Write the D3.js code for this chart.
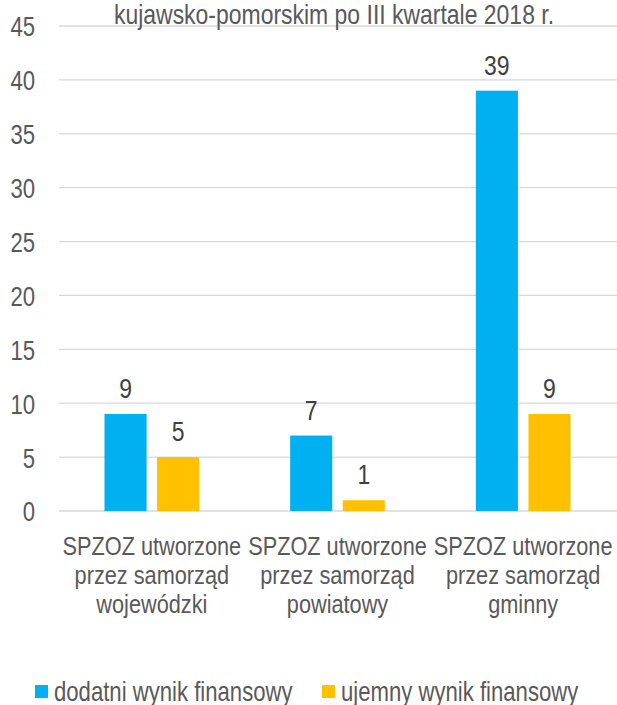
<!DOCTYPE html>
<html><head><meta charset="utf-8">
<script src="https://cdn.jsdelivr.net/npm/d3@7"></script>
<style>
html,body{margin:0;padding:0;background:#fff;}
svg text{font-family:"Liberation Sans",Arial,sans-serif;}
</style></head>
<body><svg id="chart" width="617" height="705"></svg>
<script>
const titleText = "kujawsko-pomorskim po III kwartale 2018 r.";
const categories = [
  ["SPZOZ utworzone","przez samorząd","wojewódzki"],
  ["SPZOZ utworzone","przez samorząd","powiatowy"],
  ["SPZOZ utworzone","przez samorząd","gminny"]
];
const seriesNames = ["dodatni wynik finansowy","ujemny wynik finansowy"];
const positive = [9, 7, 39];
const negative = [5, 1, 9];
const yTicks = [0,5,10,15,20,25,30,35,40,45];
const colors = ["#00B0F0","#FFC000"];

const NARROW = 0.82;
const svg = d3.select("#chart");
const x0 = d3.scaleBand().domain(d3.range(categories.length)).range([59,616]).paddingInner(0).paddingOuter(0);
const y = d3.scaleLinear().domain([0,45]).range([511,26]);
const x1 = d3.scaleBand().domain([0,1]).range([45.5, x0.bandwidth()-45.5]).paddingInner(0.2);

function narrowText(parent, x, yy, str, size, anchor, fill){
  return parent.append("g").attr("transform",`translate(${x},${yy}) scale(${NARROW},1)`)
    .append("text").attr("text-anchor",anchor).attr("fill",fill)
    .style("font-size",size+"px").text(str);
}

// gridlines
svg.append("g").selectAll("line").data(yTicks).join("line")
  .attr("x1",59).attr("x2",617)
  .attr("y1",d=>y(d)).attr("y2",d=>y(d))
  .attr("stroke","#d9d9d9").attr("stroke-width",1.3);

// y axis labels
const yAxis = d3.axisLeft(y).tickValues(yTicks).tickSize(0).tickPadding(0);
const ya = svg.append("g").attr("transform","translate(35,0)").call(yAxis);
ya.select(".domain").remove();
ya.selectAll("text").attr("fill","#595959").attr("x",0).attr("dy","0.37em")
  .attr("transform",`scale(${NARROW},1)`)
  .style("font-size","27px").style("font-family",'"Liberation Sans",Arial,sans-serif');

// title
narrowText(svg, 334, 24, titleText, 28, "middle", "#595959");

const data = categories.map((c,i)=>({i, vals:[positive[i], negative[i]]}));
const groups = svg.append("g").selectAll("g").data(data).join("g")
  .attr("transform",d=>`translate(${x0(d.i)},0)`);
groups.selectAll("rect").data(d=>d.vals.map((v,s)=>({v,s}))).join("rect")
  .attr("x",d=>x1(d.s)).attr("width",x1.bandwidth())
  .attr("y",d=>y(d.v)).attr("height",d=>y(0)-y(d.v))
  .attr("fill",d=>colors[d.s]);
groups.each(function(d){
  const g = d3.select(this);
  d.vals.forEach((v,s)=>{
    narrowText(g, x1(s)+x1.bandwidth()/2, y(v)-16, v, 28, "middle", "#404040");
  });
});

// category labels
categories.forEach((lines,i)=>{
  const t = svg.append("g")
    .attr("transform",`translate(${x0(i)+x0.bandwidth()/2},0) scale(${NARROW},1)`)
    .append("text").attr("text-anchor","middle").attr("fill","#595959").style("font-size","26.5px");
  t.selectAll("tspan").data(lines).join("tspan")
    .attr("x",0).attr("y",(d,j)=>555+j*29).text(d=>d);
});

// legend
const leg = svg.append("g");
const legX = [35, 322];
seriesNames.forEach((n,i)=>{
  leg.append("rect").attr("x",legX[i]).attr("y",685).attr("width",13).attr("height",13).attr("fill",colors[i]);
  narrowText(leg, legX[i]+19, 701, n, 27, "start", "#595959");
});
</script></body></html>
